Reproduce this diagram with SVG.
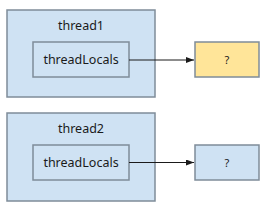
<svg xmlns="http://www.w3.org/2000/svg" width="264" height="209" viewBox="0 0 264 209">
<style>
.box{fill:#cfe2f3;stroke:#7f8c99;stroke-width:1.5}
.val{fill:#ffe599;stroke:#7f8c99;stroke-width:1.5}
.t{font-family:"Noto Sans",sans-serif;font-size:12.5px;fill:#1a1a1a;text-anchor:middle;dominant-baseline:central}
.q{font-family:"Noto Sans",sans-serif;font-size:11px;fill:#1a1a1a;text-anchor:middle;dominant-baseline:central}
.c{stroke:#1a1a1a;stroke-width:1;fill:none;marker-end:url(#ah)}
</style>
<defs>
<marker id="ah" markerWidth="8" markerHeight="6" refX="8" refY="3" orient="auto" markerUnits="userSpaceOnUse">
<path d="M0,0 L8,3 L0,6 z" fill="#1a1a1a"/>
</marker>
</defs>
<g id="thread1">
<rect class="box" x="7" y="10" width="148" height="87"/>
<text class="t" x="81" y="25">thread1</text>
</g>
<g id="threadLocals1">
<rect class="box" x="33" y="42" width="96" height="35"/>
<text class="t" x="81" y="59.5">threadLocals</text>
</g>
<g id="value1">
<rect class="val" x="195" y="42" width="64" height="35"/>
<text class="q" x="227" y="59.5">?</text>
</g>
<g id="thread2">
<rect class="box" x="7" y="113" width="148" height="88"/>
<text class="t" x="81" y="128">thread2</text>
</g>
<g id="threadLocals2">
<rect class="box" x="33" y="145" width="96" height="35"/>
<text class="t" x="81" y="162.5">threadLocals</text>
</g>
<g id="value2">
<rect class="box" x="195" y="145" width="64" height="35"/>
<text class="q" x="227" y="162.5">?</text>
</g>
<g id="connectors">
<line class="c" x1="129" y1="60" x2="194" y2="60"/>
<line class="c" x1="129" y1="162.5" x2="194" y2="162.5"/>
</g>
</svg>
